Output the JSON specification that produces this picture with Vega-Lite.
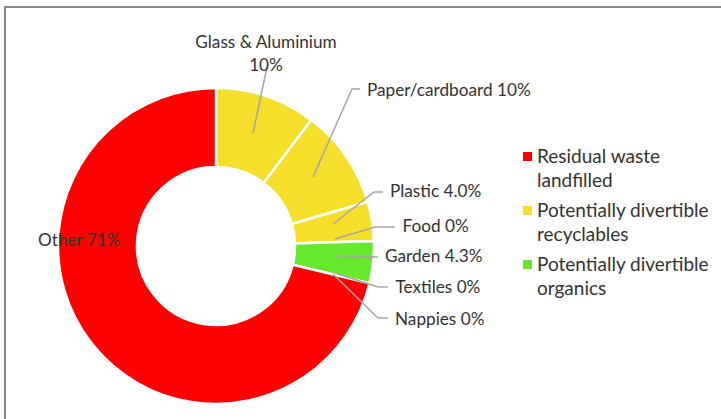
{
  "$schema": "https://vega.github.io/schema/vega-lite/v6.json",
  "autosize": "none",
  "padding": {"left": 5, "top": 7, "right": 0, "bottom": 0},
  "width": 720,
  "height": 420,
  "config": {
    "view": {"stroke": "#898989", "strokeWidth": 2},
    "font": "Lato",
    "style": {"guide-label": {"lineHeight": 24}}
  },
  "datasets": {
    "wedges": [
      {"idx": 1, "item": "Glass & Aluminium", "group": "Potentially divertible recyclables", "value": 10.3},
      {"idx": 2, "item": "Paper/cardboard", "group": "Potentially divertible recyclables", "value": 10.2},
      {"idx": 3, "item": "Plastic", "group": "Potentially divertible recyclables", "value": 4.0},
      {"idx": 4, "item": "Food", "group": "Potentially divertible organics", "value": 0},
      {"idx": 5, "item": "Garden", "group": "Potentially divertible organics", "value": 4.3},
      {"idx": 6, "item": "Textiles", "group": "Residual waste landfilled", "value": 0},
      {"idx": 7, "item": "Nappies", "group": "Residual waste landfilled", "value": 0},
      {"idx": 8, "item": "Other", "group": "Residual waste landfilled", "value": 71.2}
    ],
    "labels": [
      {"item": "Glass & Aluminium", "text": "Glass & Aluminium\n10%", "lx": 50, "ly": 203.5, "centered": true},
      {"item": "Paper/cardboard", "text": "Paper/cardboard 10%", "lx": 151, "ly": 155.5, "centered": false},
      {"item": "Plastic", "text": "Plastic 4.0%", "lx": 174, "ly": 54, "centered": false},
      {"item": "Food", "text": "Food 0%", "lx": 186.5, "ly": 19, "centered": false},
      {"item": "Garden", "text": "Garden 4.3%", "lx": 169, "ly": -11, "centered": false},
      {"item": "Textiles", "text": "Textiles 0%", "lx": 179.5, "ly": -41.5, "centered": false},
      {"item": "Nappies", "text": "Nappies 0%", "lx": 179, "ly": -73.5, "centered": false},
      {"item": "Other", "text": "Other 71%", "lx": -178, "ly": 5, "centered": false}
    ],
    "leaders": [
      {"item": "Glass & Aluminium", "seq": 1, "lx": 37, "ly": 113},
      {"item": "Glass & Aluminium", "seq": 2, "lx": 51, "ly": 179},
      {"item": "Paper/cardboard", "seq": 1, "lx": 97, "ly": 69},
      {"item": "Paper/cardboard", "seq": 2, "lx": 136, "ly": 157},
      {"item": "Paper/cardboard", "seq": 3, "lx": 144, "ly": 157},
      {"item": "Plastic", "seq": 1, "lx": 117, "ly": 22},
      {"item": "Plastic", "seq": 2, "lx": 158, "ly": 54},
      {"item": "Plastic", "seq": 3, "lx": 167, "ly": 54},
      {"item": "Food", "seq": 1, "lx": 119, "ly": 7},
      {"item": "Food", "seq": 2, "lx": 159, "ly": 19},
      {"item": "Food", "seq": 3, "lx": 179, "ly": 19},
      {"item": "Garden", "seq": 1, "lx": 119, "ly": -10},
      {"item": "Garden", "seq": 2, "lx": 162, "ly": -11},
      {"item": "Textiles", "seq": 1, "lx": 119, "ly": -27},
      {"item": "Textiles", "seq": 2, "lx": 162, "ly": -41},
      {"item": "Textiles", "seq": 3, "lx": 172, "ly": -41},
      {"item": "Nappies", "seq": 1, "lx": 117, "ly": -28},
      {"item": "Nappies", "seq": 2, "lx": 162, "ly": -72},
      {"item": "Nappies", "seq": 3, "lx": 172, "ly": -72}
    ]
  },
  "layer": [
    {
      "data": {"name": "wedges"},
      "mark": {"type": "arc", "radius": 158, "radius2": 79, "stroke": "white", "strokeWidth": 2.5},
      "encoding": {
        "x": {"datum": 0, "type": "quantitative", "scale": {"domain": [-211, 509], "nice": false, "zero": false}, "axis": null},
        "y": {"datum": 0, "type": "quantitative", "scale": {"domain": [-181, 239], "nice": false, "zero": false}, "axis": null},
        "theta": {"field": "value", "type": "quantitative", "stack": true},
        "order": {"field": "idx", "type": "quantitative"},
        "color": {
          "field": "group",
          "type": "nominal",
          "scale": {
            "domain": ["Residual waste landfilled", "Potentially divertible recyclables", "Potentially divertible organics"],
            "range": ["#FF0000", "#F5DF2A", "#66E82C"]
          },
          "legend": {
            "orient": "none",
            "legendX": 513,
            "legendY": 140,
            "title": null,
            "padding": 0,
            "symbolType": "square",
            "symbolSize": 81,
            "symbolStrokeWidth": 0,
            "labelFont": "Lato",
            "labelFontSize": 19,
            "labelColor": "#333333",
            "labelLimit": 400,
            "labelOffset": 0,
            "rowPadding": 10,
            "labelExpr": "datum.label === 'Residual waste landfilled' ? ['Residual waste', 'landfilled'] : datum.label === 'Potentially divertible recyclables' ? ['Potentially divertible', 'recyclables'] : ['Potentially divertible', 'organics']"
          }
        }
      }
    },
    {
      "data": {"name": "leaders"},
      "mark": {"type": "line", "color": "#A6A6A6", "strokeWidth": 1.5},
      "encoding": {
        "x": {"field": "lx", "type": "quantitative"},
        "y": {"field": "ly", "type": "quantitative"},
        "detail": {"field": "item"},
        "order": {"field": "seq", "type": "quantitative"}
      }
    },
    {
      "data": {"name": "labels"},
      "transform": [{"filter": "datum.centered"}],
      "mark": {"type": "text", "align": "center", "baseline": "middle", "lineBreak": "\n", "lineHeight": 23, "fontSize": 17.2, "color": "#333333", "font": "Lato"},
      "encoding": {
        "x": {"field": "lx", "type": "quantitative"},
        "y": {"field": "ly", "type": "quantitative"},
        "text": {"field": "text"}
      }
    },
    {
      "data": {"name": "labels"},
      "transform": [{"filter": "!datum.centered"}],
      "mark": {"type": "text", "align": "left", "baseline": "middle", "fontSize": 17.2, "color": "#333333", "font": "Lato"},
      "encoding": {
        "x": {"field": "lx", "type": "quantitative"},
        "y": {"field": "ly", "type": "quantitative"},
        "text": {"field": "text"}
      }
    }
  ]
}
